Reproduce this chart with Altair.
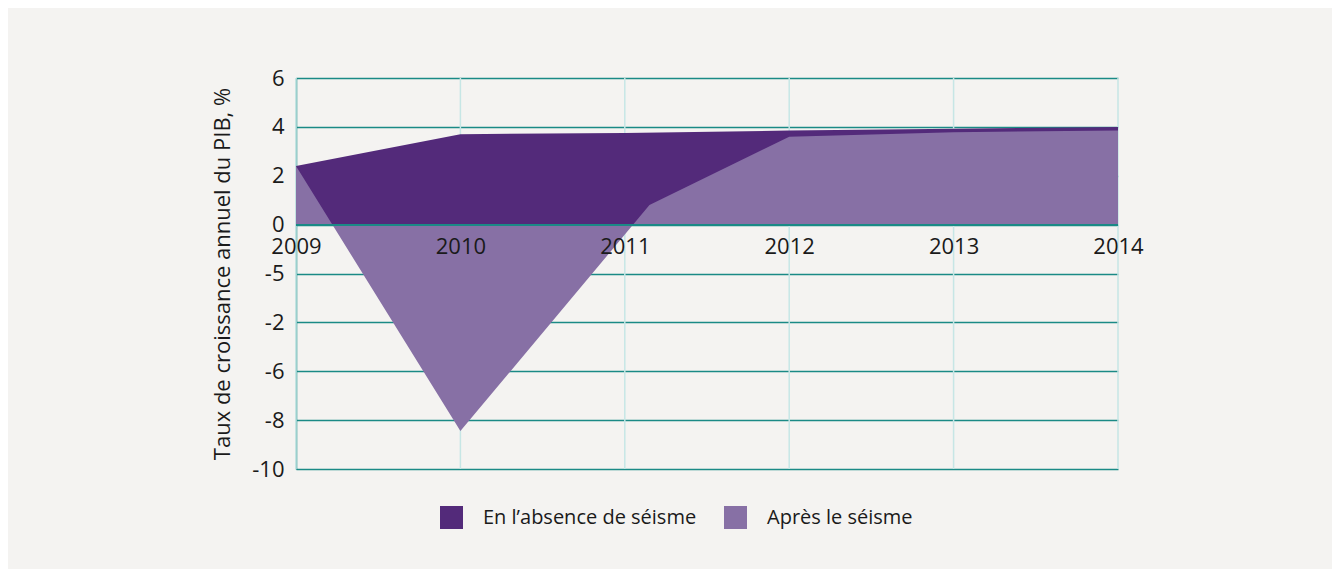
import altair as alt
import pandas as pd

# --- data ---
series_names = ["En l\u2019absence de séisme", "Après le séisme"]
years_absence = [2009, 2010, 2011, 2012, 2013, 2014]
values_absence = [2.4, 3.7, 3.75, 3.85, 3.92, 4.0]
years_apres = [2009, 2010, 2011.15, 2012, 2013, 2014]
values_apres = [2.4, -8.45, 0.8, 3.6, 3.78, 3.85]

x_ticks = [2009, 2010, 2011, 2012, 2013, 2014]
y_tick_values = [6, 4, 2, 0, -2, -4, -6, -8, -10]
y_tick_labels = ["6", "4", "2", "0", "-5", "-2", "-6", "-8", "-10"]
y_title = "Taux de croissance annuel du PIB, %"

colors = ["#532a7a", "#8770a5"]
teal = "#1a8a86"
light_grid = "#c6e6e5"
bg = "#f4f3f1"
text_color = "#1a1a1a"
font = "Open Sans"

rows = []
for yr, v in zip(years_absence, values_absence):
    rows.append({"year": yr, "value": v, "series": series_names[0]})
for yr, v in zip(years_apres, values_apres):
    rows.append({"year": yr, "value": v, "series": series_names[1]})
df = pd.DataFrame(rows)
grid_df = pd.DataFrame({"year": x_ticks})

label_expr = " : ".join(
    f"datum.value == {v} ? '{l}'" for v, l in zip(y_tick_values, y_tick_labels)
) + " : datum.label"

x_scale = alt.Scale(domain=[2009, 2014], nice=False, zero=False)
y_scale = alt.Scale(domain=[-10, 6], nice=False, zero=False)

x_axis = alt.Axis(
    values=x_ticks, format="d", title=None, grid=False, domain=False, ticks=False,
    tickSize=0, labelPadding=12, offset=-244.4, labelFontSize=22, labelFont=font,
    labelColor=text_color, labelFlush=False, labelOverlap=False, zindex=1,
)
y_axis = alt.Axis(
    values=y_tick_values, labelExpr=label_expr, title=y_title, grid=True,
    gridColor=teal, gridWidth=1.5, gridOpacity=1, domain=True, domainColor=teal,
    domainWidth=1.5, ticks=False, tickSize=0, labelPadding=12, labelFontSize=22,
    labelFont=font, labelColor=text_color, titleFont=font, titleFontSize=22,
    titleFontWeight="normal", titleColor=text_color, titlePadding=17,
)

color_enc = alt.Color(
    "series:N",
    scale=alt.Scale(domain=series_names, range=colors),
    legend=alt.Legend(
        title=None, orient="none", direction="horizontal", legendX=144, legendY=428,
        symbolType="square", symbolSize=529, symbolStrokeWidth=0, symbolOpacity=1,
        labelFontSize=20, labelFont=font, labelColor=text_color, labelOffset=20,
        columnPadding=27, labelLimit=400,
    ),
)

vgrid = alt.Chart(grid_df).mark_rule(color=light_grid, strokeWidth=1.5).encode(
    x=alt.X("year:Q", scale=x_scale, axis=x_axis),
    y=alt.datum(-10),
    y2=alt.datum(6),
)

def area_layer(name):
    return alt.Chart(df).transform_filter(
        alt.datum.series == name
    ).mark_area(opacity=1, interpolate="linear").encode(
        x=alt.X("year:Q", scale=x_scale, axis=x_axis),
        y=alt.Y("value:Q", scale=y_scale, axis=y_axis, stack=None),
        color=color_enc,
    )

zero_rule = alt.Chart(grid_df).mark_rule(color=teal, strokeWidth=1.5).encode(
    y=alt.datum(0),
    x=alt.datum(2009),
    x2=alt.datum(2014),
)

chart = alt.layer(
    vgrid, area_layer(series_names[0]), area_layer(series_names[1]), zero_rule
).properties(
    width=822,
    height=391,
    autosize=alt.AutoSizeParams(type="none"),
    padding={"left": 288, "top": 70, "right": 214, "bottom": 100},
    background=bg,
).configure_view(stroke=None)

chart.save("out.html", embed_options={"renderer": "svg", "actions": False})
